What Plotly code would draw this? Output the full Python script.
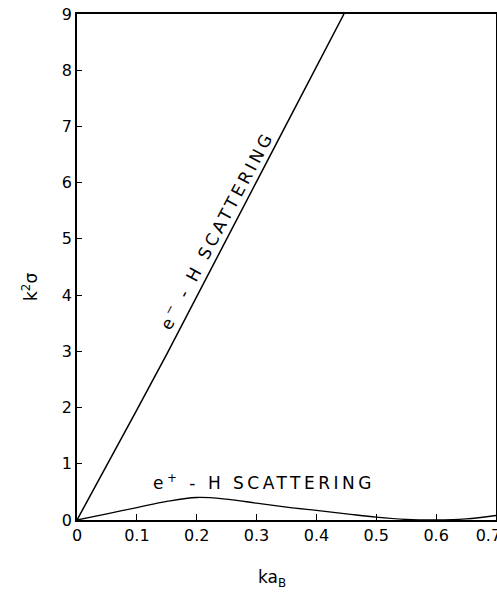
import plotly.graph_objects as go

# e- - H scattering
k_em = [0.0, 0.05, 0.1, 0.15, 0.2, 0.25, 0.3, 0.35, 0.4, 0.446]
s_em = [0.0, 0.97, 1.96, 2.95, 3.98, 5.0, 6.02, 7.04, 8.06, 9.0]

# e+ - H scattering
k_ep = [0.0, 0.05, 0.1, 0.15, 0.2, 0.25, 0.3, 0.35, 0.4, 0.45, 0.5, 0.55, 0.6, 0.65, 0.7]
s_ep = [0.0, 0.11, 0.22, 0.33, 0.40, 0.37, 0.30, 0.23, 0.17, 0.11, 0.05, 0.01, 0.0, 0.02, 0.08]

x_ticks = [0, 0.1, 0.2, 0.3, 0.4, 0.5, 0.6, 0.7]
x_labels = ["0", "0.1", "0.2", "0.3", "0.4", "0.5", "0.6", "0.7\u00a0\u00a0\u00a0"]
y_ticks = [0, 1, 2, 3, 4, 5, 6, 7, 8, 9]
y_labels = ["0", "1", "2", "3", "4", "5", "6", "7", "8", "9"]

FONT = "DejaVu Sans"

W, H = 497, 592
pl, pr, pt, pb = 77, 1, 14, 72
pw, ph = W - pl - pr, H - pt - pb

fig = go.Figure()
fig.add_trace(go.Scatter(x=k_em, y=s_em, mode="lines",
                         line=dict(color="black", width=1.5), showlegend=False))
fig.add_trace(go.Scatter(x=k_ep, y=s_ep, mode="lines", line_shape="spline",
                         line=dict(color="black", width=1.3), showlegend=False))

fig.update_layout(
    width=W, height=H,
    margin=dict(l=pl, r=pr, t=pt, b=pb, autoexpand=False),
    paper_bgcolor="white", plot_bgcolor="white",
    font=dict(family=FONT, color="black", size=16),
    xaxis=dict(range=[0, 0.7], tickvals=x_ticks, ticktext=x_labels, automargin=False,
               showgrid=False, zeroline=False, showline=True, linecolor="black",
               linewidth=1.5, mirror=True, ticks="inside", ticklen=6,
               tickcolor="black", ticklabeloverflow="allow",
               tickfont=dict(size=16, family=FONT)),
    yaxis=dict(range=[0, 9], tickvals=y_ticks, ticktext=y_labels, automargin=False,
               showgrid=False, zeroline=False, showline=True, linecolor="black",
               linewidth=1.5, mirror=True, ticks="inside", ticklen=5,
               tickcolor="black", ticklabeloverflow="allow",
               tickfont=dict(size=16, family=FONT)),
)

def px_x(px):
    return (px - pl) / pw

def px_y(py):
    return (H - pb - py) / ph

fig.add_annotation(text="<span style='letter-spacing:3.5px'>e<sup>+</sup> - H SCATTERING</span>",
                   x=px_x(264), y=px_y(482), xref="paper", yref="paper", showarrow=False,
                   xanchor="center", yanchor="middle", font=dict(size=17, family=FONT, color="black"))
fig.add_annotation(text="<span style='letter-spacing:3.5px'>e<sup>−</sup> - H SCATTERING</span>",
                   x=px_x(216), y=px_y(230), xref="paper", yref="paper", showarrow=False,
                   xanchor="center", yanchor="middle",
                   textangle=-62, font=dict(size=17, family=FONT, color="black"))
fig.add_annotation(text="ka<sub>B</sub>", x=px_x(272), y=px_y(578),
                   xref="paper", yref="paper", showarrow=False,
                   xanchor="center", yanchor="middle", font=dict(size=17, family=FONT))
fig.add_annotation(text="k<sup>2</sup>σ", x=px_x(30), y=px_y(287),
                   xref="paper", yref="paper", showarrow=False,
                   xanchor="center", yanchor="middle",
                   textangle=-90, font=dict(size=17, family=FONT))

fig.write_html("out.html", config={"displayModeBar": False},
               post_script="document.body.style.margin='0';document.body.style.overflow='hidden';")
